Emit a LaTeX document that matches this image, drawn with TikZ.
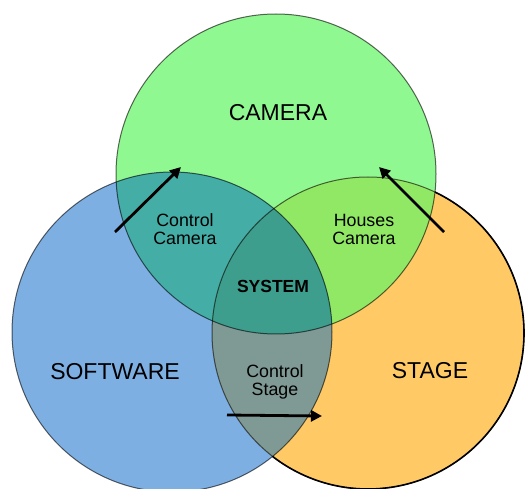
\documentclass[tikz,border=0pt]{standalone}
\usepackage{fontspec}
\setmainfont{Liberation Sans}
\usetikzlibrary{arrows.meta}
\definecolor{camG}{HTML}{90F890}
\definecolor{softB}{HTML}{7DAFE3}
\definecolor{stageO}{HTML}{FFCA66}
\definecolor{camSoft}{HTML}{44ADA6}
\definecolor{camStage}{HTML}{90E865}
\definecolor{softStage}{HTML}{7F9994}
\definecolor{allThree}{HTML}{3D9E8D}
\tikzstyle{bigL} = [inner sep=0pt, font=\fontsize{23}{23}\selectfont]
\tikzstyle{smallL} = [inner sep=0pt, align=center, font=\fontsize{17.8}{18}\selectfont]
\tikzstyle{rim} = [draw=black, draw opacity=.6, line width=1pt]
\tikzstyle{push} = [draw=black, line width=2.8pt, -{Triangle[length=11pt,width=11pt]}]

\begin{document}
\begin{tikzpicture}[x=1pt,y=-1pt]
\useasboundingbox (0,0) rectangle (528,489);
\fill[white] (0,0) rectangle (528,489);

% Circle centres
\coordinate (c) at (276,174);
\coordinate (s) at (172,332);
\coordinate (t) at (368,333);

% Fills
\fill[camG]   (c) circle (160pt);
\fill[softB]  (s) circle (160pt);
\fill[stageO] (t) circle (156pt);
\begin{scope}
	\clip (c) circle (160pt);
	\fill[camSoft]  (s) circle (160pt);
	\fill[camStage] (t) circle (156pt);
\end{scope}
\begin{scope}
	\clip (s) circle (160pt);
	\fill[softStage] (t) circle (156pt);
	\clip (t) circle (156pt);
	\fill[allThree] (c) circle (160pt);
\end{scope}

% Outlines
\draw[rim] (c) circle (160pt);
\draw[rim] (s) circle (160pt);
\draw[rim] (t) circle (156pt);
\begin{scope}[even odd rule]
	\clip (-10,-10) rectangle (540,500) (s) circle (160pt);
	\clip (-10,-10) rectangle (540,500) (c) circle (160pt);
	\draw[line width=1.6pt] (t) circle (156pt);
\end{scope}

% Define nodes
\node[bigL] (cam)   at (278,113) {CAMERA};
\node[bigL] (soft)  at (115,372) {SOFTWARE};
\node[bigL] (stage) at (430,371) {STAGE};
\node[smallL, font=\bfseries\fontsize{17.5}{18}\selectfont] (sys) at (273,286) {SYSTEM};
\node[smallL] (cc) at (185,229) {Control\\Camera};
\node[smallL] (hc) at (364,229) {Houses\\Camera};
\node[smallL] (cs) at (275,382) {Control\\Stage};

% Arrows
\coordinate (a1) at (115,232);
\coordinate (b1) at (181,167);
\coordinate (a2) at (444,232);
\coordinate (b2) at (379,167);
\coordinate (a3) at (227,415);
\coordinate (b3) at (322,416);
\draw[push] (a1) -- (b1);
\draw[push] (a2) -- (b2);
\draw[push] (a3) -- (b3);
\end{tikzpicture}
\end{document}
